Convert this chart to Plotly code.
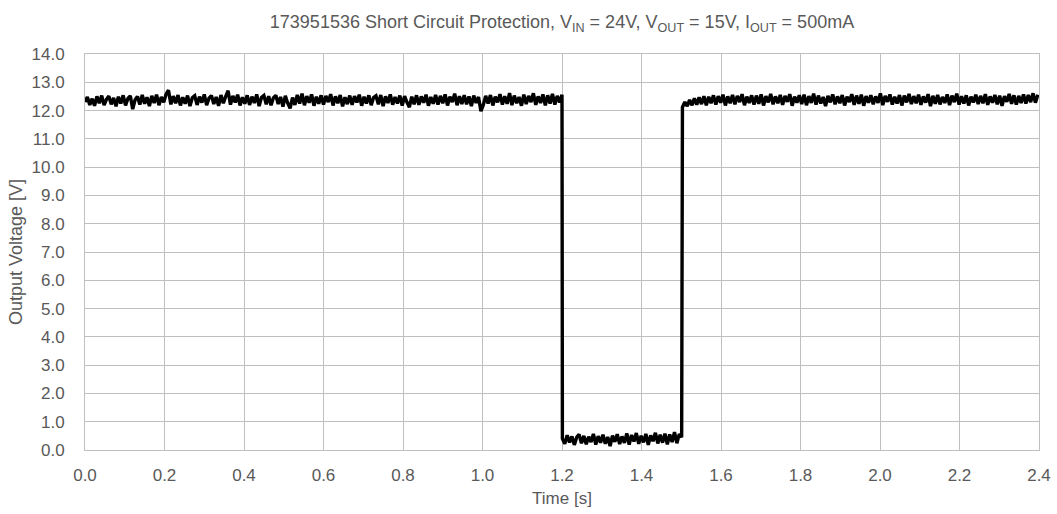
import numpy as np
import plotly.graph_objects as go

# Output voltage samples (V)
high_before = [
    12.30, 12.48, 12.20, 12.42, 12.17, 12.50, 12.26, 12.53, 12.19, 12.40,
    12.51, 12.22, 12.45, 12.15, 12.49, 12.25, 12.54, 12.18, 12.43, 12.52,
    12.05, 12.38, 12.50, 12.21, 12.55, 12.24, 12.47, 12.16, 12.52, 12.27,
    12.56, 12.19, 12.48, 12.29, 12.58, 12.72, 12.22, 12.51, 12.26, 12.55,
    12.18, 12.47, 12.24, 12.53, 12.16, 12.45, 12.52, 12.20, 12.49, 12.28,
    12.57, 12.19, 12.44, 12.53, 12.23, 12.48, 12.17, 12.55, 12.26, 12.50,
    12.70, 12.21, 12.52, 12.29, 12.56, 12.18, 12.47, 12.24, 12.54, 12.20,
    12.49, 12.27, 12.57, 12.16, 12.46, 12.53, 12.22, 12.51, 12.19, 12.45,
    12.54, 12.23, 12.48, 12.14, 12.52, 12.26, 12.08, 12.46, 12.20, 12.55,
    12.25, 12.60, 12.19, 12.51, 12.28, 12.57, 12.17, 12.49, 12.24, 12.54,
    12.21, 12.52, 12.30, 12.58, 12.18, 12.50, 12.26, 12.55, 12.15, 12.47,
    12.23, 12.53, 12.20, 12.51, 12.29, 12.56, 12.17, 12.49, 12.25, 12.54,
    12.19, 12.46, 12.52, 12.22, 12.55, 12.16, 12.50, 12.27, 12.57, 12.21,
    12.48, 12.25, 12.53, 12.18, 12.51, 12.29, 12.12, 12.49, 12.22, 12.54,
    12.20, 12.50, 12.28, 12.56, 12.17, 12.48, 12.24, 12.55, 12.21, 12.52,
    12.26, 12.57, 12.18, 12.49, 12.30, 12.60, 12.19, 12.51, 12.23, 12.54,
    12.22, 12.50, 12.16, 12.53, 12.27, 12.48, 11.98, 12.20, 12.52, 12.25,
    12.55, 12.18, 12.49, 12.29, 12.58, 12.21, 12.51, 12.24, 12.62, 12.19,
    12.53, 12.26, 12.48, 12.17, 12.56, 12.23, 12.52, 12.30, 12.61, 12.20,
    12.50, 12.27, 12.57, 12.18, 12.54, 12.25, 12.59, 12.21, 12.52, 12.29,
    12.56,
]

low_short = [
    0.40, 0.22, 0.52, 0.27, 0.48, 0.18, 0.45, 0.55, 0.24, 0.50,
    0.20, 0.47, 0.28, 0.57, 0.19, 0.49, 0.26, 0.54, 0.22, 0.46,
    0.14, 0.51, 0.29, 0.56, 0.21, 0.48, 0.25, 0.59, 0.19, 0.53,
    0.30, 0.60, 0.22, 0.50, 0.27, 0.57, 0.18, 0.52, 0.31, 0.61,
    0.23, 0.54, 0.26, 0.58, 0.20, 0.55, 0.28, 0.63, 0.24, 0.56,
    0.45,
]

high_after = [
    12.12, 12.30, 12.16, 12.38, 12.19, 12.43, 12.21, 12.47, 12.23, 12.51,
    12.19, 12.49, 12.26, 12.54, 12.21, 12.51, 12.28, 12.56, 12.18, 12.50,
    12.26, 12.55, 12.22, 12.52, 12.30, 12.58, 12.19, 12.49, 12.27, 12.54,
    12.21, 12.53, 12.24, 12.57, 12.18, 12.51, 12.29, 12.59, 12.22, 12.50,
    12.26, 12.55, 12.20, 12.52, 12.31, 12.58, 12.17, 12.49, 12.28, 12.54,
    12.23, 12.56, 12.19, 12.51, 12.27, 12.60, 12.21, 12.53, 12.25, 12.48,
    12.16, 12.52, 12.29, 12.57, 12.22, 12.50, 12.26, 12.55, 12.18, 12.49,
    12.30, 12.58, 12.20, 12.53, 12.24, 12.56, 12.17, 12.51, 12.28, 12.54,
    12.22, 12.50, 12.27, 12.61, 12.19, 12.52, 12.31, 12.57, 12.21, 12.49,
    12.25, 12.55, 12.18, 12.53, 12.29, 12.59, 12.23, 12.51, 12.26, 12.56,
    12.20, 12.50, 12.28, 12.58, 12.16, 12.52, 12.24, 12.55, 12.22, 12.48,
    12.27, 12.57, 12.19, 12.53, 12.30, 12.60, 12.21, 12.51, 12.25, 12.54,
    12.18, 12.49, 12.29, 12.56, 12.23, 12.52, 12.26, 12.58, 12.20, 12.50,
    12.28, 12.55, 12.22, 12.53, 12.17, 12.51, 12.31, 12.59, 12.24, 12.54,
    12.21, 12.52, 12.27, 12.57, 12.25, 12.55, 12.30, 12.61, 12.28, 12.56,
]

# Sample times (s): segment start times and sampling interval
sample_dt = 0.006
t_high_before_start = 0.0
t_low_start = 1.201
t_high_after_start = 1.503

t_high_before = t_high_before_start + sample_dt * np.arange(len(high_before))
t_low = t_low_start + sample_dt * np.arange(len(low_short))
t_high_after = t_high_after_start + sample_dt * np.arange(len(high_after))

time_s = np.concatenate([t_high_before, t_low, t_high_after])
voltage = np.concatenate([high_before, low_short, high_after])

x_ticks = [0.0, 0.2, 0.4, 0.6, 0.8, 1.0, 1.2, 1.4, 1.6, 1.8, 2.0, 2.2, 2.4]
y_ticks = [0, 1, 2, 3, 4, 5, 6, 7, 8, 9, 10, 11, 12, 13, 14]

title_text = ("173951536 Short Circuit Protection, V<sub>IN</sub> = 24V, "
              "V<sub>OUT</sub> = 15V, I<sub>OUT</sub> = 500mA")

text_color = "#595959"
grid_color = "#BFBFBF"
font_family = "Liberation Sans, Arial, sans-serif"

fig = go.Figure()
fig.add_trace(go.Scatter(
    x=time_s, y=voltage, mode="lines",
    line=dict(color="#000000", width=3.4, simplify=False),
    showlegend=False, hoverinfo="skip",
))

fig.update_layout(
    width=1057, height=514,
    margin=dict(l=85, r=18, t=54, b=64, autoexpand=False),
    paper_bgcolor="white", plot_bgcolor="white",
    font=dict(family=font_family, color=text_color, size=18),
    title=dict(text=title_text, x=0.5, xref="paper", y=1 - 22 / 514,
               yref="container", xanchor="center", yanchor="middle",
               font=dict(size=18, color=text_color, family=font_family)),
)

fig.update_xaxes(
    range=[0, 2.4], tickvals=x_ticks, tickformat=".1f",
    showgrid=True, gridcolor=grid_color, gridwidth=1,
    showline=True, linecolor=grid_color, linewidth=1, mirror=True,
    zeroline=False, ticks="", ticklabelstandoff=10,
    tickfont=dict(size=17, color=text_color),
    title=dict(text="Time [s]", font=dict(size=17, color=text_color), standoff=7),
)
fig.update_yaxes(
    range=[0, 14], tickvals=y_ticks, tickformat=".1f",
    showgrid=True, gridcolor=grid_color, gridwidth=1,
    showline=True, linecolor=grid_color, linewidth=1, mirror=True,
    zeroline=False, ticks="", ticklabelstandoff=16,
    tickfont=dict(size=17, color=text_color),
    title=dict(text="Output Voltage [V]", font=dict(size=18, color=text_color), standoff=4),
)

fig.write_html("out.html", config={"displayModeBar": False},
               post_script="document.body.style.margin='0';")
